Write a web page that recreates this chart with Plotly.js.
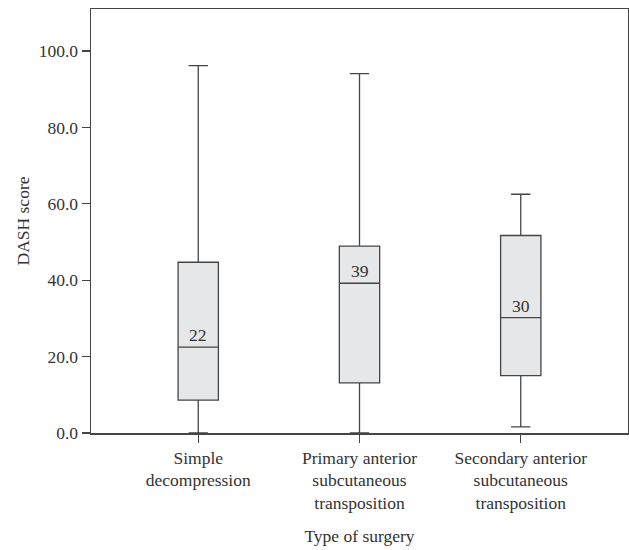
<!DOCTYPE html>
<html>
<head>
<meta charset="utf-8">
<script src="https://cdn.plot.ly/plotly-3.0.1.min.js"></script>
<style>html,body{margin:0;padding:0;background:#fff;}#chart{width:629px;height:550px;}</style>
</head>
<body>
<div id="chart"></div>
<script>
var categories = ["Simple<br>decompression", "Primary anterior<br>subcutaneous<br>transposition", "Secondary anterior<br>subcutaneous<br>transposition"];
var lowerWhisker = [0, 0, 1.6];
var q1Values = [8.6, 13.1, 15.0];
var medianValues = [22.5, 39.2, 30.2];
var q3Values = [44.7, 48.9, 51.7];
var upperWhisker = [96.2, 94.1, 62.5];
var medianLabels = ["22", "39", "30"];
var yTicks = [0, 20, 40, 60, 80, 100];

var FONT = "Liberation Serif, Times New Roman, serif";
var FS = 17.5;
var xIdx = categories.map(function(c, i){ return i; });

var trace = {
  type: 'box',
  x: xIdx,
  q1: q1Values,
  median: medianValues,
  q3: q3Values,
  lowerfence: lowerWhisker,
  upperfence: upperWhisker,
  width: 0.25,
  whiskerwidth: 0.48,
  fillcolor: '#e6e7e9',
  line: {color: '#454545', width: 1.3},
  boxpoints: false,
  hoverinfo: 'skip',
  showlegend: false
};

var annotations = medianLabels.map(function(t, i){
  return {x: i, y: medianValues[i], xref: 'x', yref: 'y', text: t, showarrow: false,
    yanchor: 'bottom', xanchor: 'center', yshift: 0,
    font: {family: FONT, size: FS, color: '#333'}};
});

var layout = {
  width: 629, height: 550,
  margin: {l: 91, r: 1, t: 9, b: 117},
  paper_bgcolor: '#fff', plot_bgcolor: '#fff',
  font: {family: FONT, size: FS, color: '#333'},
  xaxis: {
    range: [-0.665, 2.665],
    tickmode: 'array', tickvals: xIdx, ticktext: categories,
    ticks: 'outside', ticklen: 8, tickcolor: '#444', tickwidth: 1.2,
    showline: true, linecolor: '#444', linewidth: 1.5, mirror: true,
    showgrid: false, zeroline: false,
    tickfont: {family: FONT, size: FS, color: '#333'},
    title: {text: 'Type of surgery', font: {family: FONT, size: FS, color: '#333'}, standoff: 17}
  },
  yaxis: {
    range: [0, 111],
    tickmode: 'array', tickvals: yTicks, ticktext: yTicks.map(function(v){ return v.toFixed(1); }),
    ticks: 'outside', ticklen: 8, tickcolor: '#444', tickwidth: 1.2,
    showline: true, linecolor: '#444', linewidth: 1.5, mirror: true,
    showgrid: false, zeroline: false,
    tickfont: {family: FONT, size: FS, color: '#333'},
    title: {text: 'DASH score', font: {family: FONT, size: FS, color: '#333'}, standoff: 4}
  },
  annotations: annotations
};

Plotly.newPlot('chart', [trace], layout, {staticPlot: true, displayModeBar: false});
</script>
</body>
</html>
